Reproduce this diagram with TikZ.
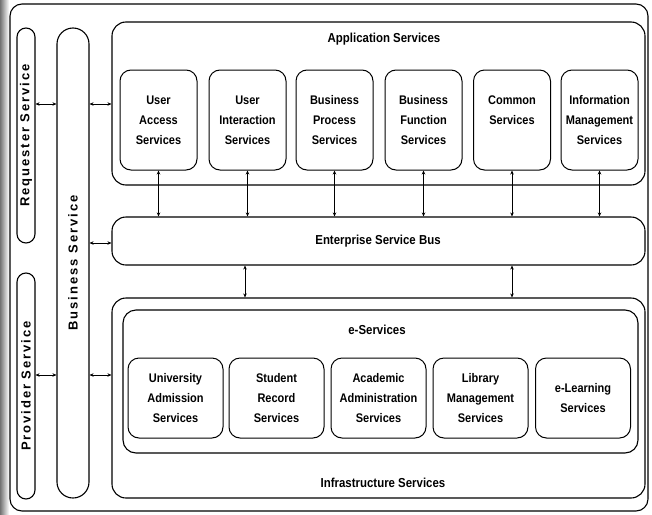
\documentclass[tikz,border=0pt]{standalone}
\usepackage{fontspec}
\setmainfont{Liberation Sans}
\newfontfamily\narrowfont{Liberation Sans}[FakeStretch=0.88]
\newfontfamily\spacedfont{Liberation Sans}[LetterSpace=15]
\usetikzlibrary{arrows.meta}

\begin{document}
\begin{tikzpicture}[x=1pt,y=-1pt,
  frame/.style={draw, line width=1.1pt, rounded corners=14pt, inner sep=0pt},
  svcbox/.style={draw, line width=1pt, rounded corners=11pt, align=center,
    font=\narrowfont\fontsize{12.5}{20}\selectfont\bfseries, inner sep=0pt},
  appsvc/.style={svcbox, minimum width=77pt, minimum height=100pt},
  esvc/.style={svcbox, minimum width=95pt, minimum height=80pt},
  pill/.style={draw, line width=1.1pt, inner sep=0pt},
  vlabel/.style={rotate=90, font=\spacedfont\fontsize{13}{15}\selectfont\bfseries},
  title/.style={font=\narrowfont\fontsize{13}{15}\selectfont\bfseries},
  conn/.style={{Stealth[length=4pt,width=3.5pt]}-{Stealth[length=4pt,width=3.5pt]}, line width=0.9pt}
]
\useasboundingbox (0,0) rectangle (652,514);
\fill[white] (0,0) rectangle (652,514);
% darkened scanned edge
\shade[left color=black!55, right color=white] (0,0) rectangle (9,514);

% outer frame
\node[frame, rounded corners=12pt, minimum width=638pt, minimum height=507pt] (outer) at (329,257.5) {};

% side pillars
\node[pill, rounded corners=9pt, minimum width=18pt, minimum height=215pt] (req) at (26,135.5) {};
\node[vlabel] at (req) {Requester Service};
\node[pill, rounded corners=16pt, minimum width=32pt, minimum height=470pt] (bus) at (73,263) {};
\node[vlabel] at (bus) {Business Service};
\node[pill, rounded corners=9pt, minimum width=18pt, minimum height=226pt] (prov) at (26,386) {};
\node[vlabel] at (prov) {Provider Service};

% application services layer
\node[frame, minimum width=533pt, minimum height=163pt] (app) at (378.5,103.5) {};
\node[title] at (384,39) {Application Services};
\node[appsvc] (ua) at (158.5,120) {User\\Access\\Services};
\node[appsvc] (ui) at (247.5,120) {User\\Interaction\\Services};
\node[appsvc] (bp) at (334.5,120) {Business\\Process\\Services};
\node[appsvc] (bf) at (423.5,120) {Business\\Function\\Services};
\node[appsvc] (cs) at (512,120) {Common\\Services\\\mbox{}};
\node[appsvc] (im) at (599.5,120) {Information\\Management\\Services};

% enterprise service bus
\node[frame, minimum width=533pt, minimum height=48pt] (esb) at (378.5,241) {};
\node[title] at (378,241) {Enterprise Service Bus};

% infrastructure layer
\node[frame, minimum width=533pt, minimum height=200pt] (infra) at (378.5,398) {};
\node[title] at (383,483) {Infrastructure Services};
\node[frame, rounded corners=13pt, minimum width=515pt, minimum height=143pt] (eserv) at (380.5,381.5) {};
\node[title] at (377,330) {e-Services};
\node[esvc] (uad) at (175.5,398) {University\\Admission\\Services};
\node[esvc] (sr) at (276.5,398) {Student\\Record\\Services};
\node[esvc] (aa) at (378.5,398) {Academic\\Administration\\Services};
\node[esvc] (lm) at (480.5,398) {Library\\Management\\Services};
\node[esvc] (el) at (583,398) {e-Learning\\Services};

% application services <-> bus
\foreach \n in {ua,ui,bp,bf,cs,im}
  \draw[conn] (\n.south) -- (\n.south |- esb.north);

% bus <-> infrastructure
\coordinate (c1) at (245,0);
\coordinate (c2) at (512,0);
\draw[conn] (c1 |- esb.south) -- (c1 |- infra.north);
\draw[conn] (c2 |- esb.south) -- (c2 |- infra.north);

% horizontal links through the business service pillar
\coordinate (h1) at (0,104);
\coordinate (h2) at (0,243);
\coordinate (h3) at (0,375);
\draw[conn] (req.east |- h1) -- (bus.west |- h1);
\draw[conn] (bus.east |- h1) -- (app.west |- h1);
\draw[conn] (bus.east |- h2) -- (esb.west |- h2);
\draw[conn] (prov.east |- h3) -- (bus.west |- h3);
\draw[conn] (bus.east |- h3) -- (infra.west |- h3);
\end{tikzpicture}
\end{document}
